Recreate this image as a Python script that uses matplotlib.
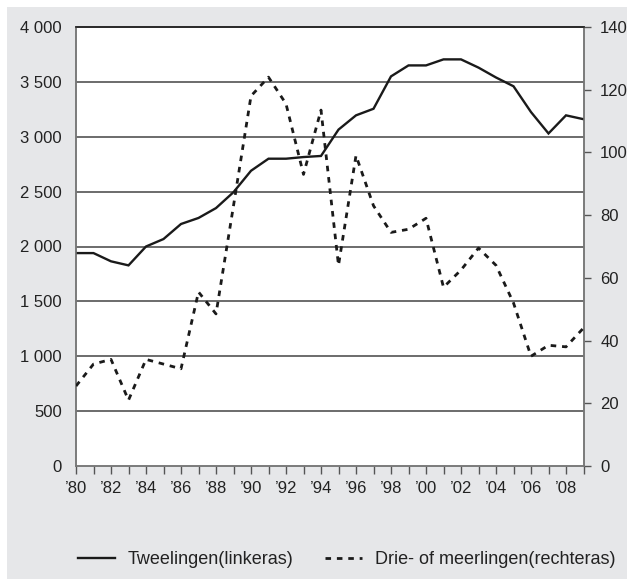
import matplotlib
matplotlib.use("Agg")
import matplotlib.pyplot as plt
from matplotlib.lines import Line2D
from matplotlib.patches import Rectangle

plt.rcParams["font.family"] = ["Liberation Sans", "DejaVu Sans"]

# data
years = list(range(1980, 2010))
tweelingen = [1940, 1940, 1865, 1828, 2000, 2068, 2205, 2260, 2350, 2495,
              2690, 2800, 2800, 2815, 2825, 3065, 3195, 3255, 3550, 3650,
              3650, 3705, 3705, 3630, 3540, 3460, 3225, 3030, 3195, 3160]
meerlingen = [25.5, 32.5, 34.0, 21.0, 34.0, 32.5, 31.0, 55.5, 48.5, 83.0,
              118.0, 124.0, 115.5, 93.0, 113.5, 64.0, 99.0, 83.0, 74.5, 75.5,
              79.0, 57.0, 62.5, 69.5, 64.0, 52.0, 35.0, 38.5, 38.0, 44.0]
left_ticks = [0, 500, 1000, 1500, 2000, 2500, 3000, 3500, 4000]
left_labels = ["0", "500", "1 000", "1 500", "2 000", "2 500", "3 000", "3 500", "4 000"]
right_ticks = [0, 20, 40, 60, 80, 100, 120, 140]
x_labels = ["\u2019%02d" % (y % 100) if y % 2 == 0 else "" for y in years]
legend_labels = ["Tweelingen(linkeras)", "Drie- of meerlingen(rechteras)"]

W, H = 627, 579
DASH = (0, (2.0, 2.1))

fig = plt.figure(figsize=(W / 100, H / 100), dpi=100)
fig.patch.set_facecolor("white")
fig.add_artist(Rectangle((7 / W, 0), 1 - 7 / W, (H - 7) / H,
                         transform=fig.transFigure, facecolor="#e6e7e9",
                         edgecolor="none", zorder=0))

ax1 = fig.add_axes([76 / W, (H - 466) / H, (583.5 - 76) / W, (466 - 27) / H])
ax1.set_facecolor("white")
ax2 = ax1.twinx()

ax1.set_xlim(1980, 2009)
ax1.set_ylim(0, 4000)
ax2.set_ylim(0, 140)

ax1.set_yticks(left_ticks)
ax1.set_yticklabels(left_labels)
ax2.set_yticks(right_ticks)
ax1.set_xticks(years)
ax1.set_xticklabels(x_labels)

for v in left_ticks[1:-1]:
    ax1.axhline(v, color="#444444", lw=1.1, zorder=1)

ax1.plot(years, tweelingen, color="#1a1a1a", lw=1.7, zorder=3,
         solid_joinstyle="miter")
ax2.plot(years, meerlingen, color="#1a1a1a", lw=2.0, zorder=3,
         linestyle=DASH)

ax1.tick_params(axis="y", length=0, pad=10, labelsize=12, colors="#222222")
ax1.tick_params(axis="x", length=6, width=1, color="#555555", pad=5,
                labelsize=12, labelcolor="#222222")
ax2.tick_params(axis="y", length=5, width=1, color="#555555", pad=7,
                labelsize=12, labelcolor="#222222")

for ax in (ax1, ax2):
    for s in ax.spines.values():
        s.set_color("#777777")
        s.set_linewidth(1.1)
    ax.spines["top"].set_color("#222222")

handles = [Line2D([], [], color="#1a1a1a", lw=1.7),
           Line2D([], [], color="#1a1a1a", lw=2.0, linestyle=DASH)]
fig.legend(handles, legend_labels, loc="center", ncol=2, frameon=False,
           bbox_to_anchor=(346.5 / W, (H - 560) / H), fontsize=13,
           handlelength=2.05, handletextpad=0.7, columnspacing=1.75,
           labelcolor="#222222", borderpad=0, borderaxespad=0)

fig.savefig("out.png", dpi=100)
